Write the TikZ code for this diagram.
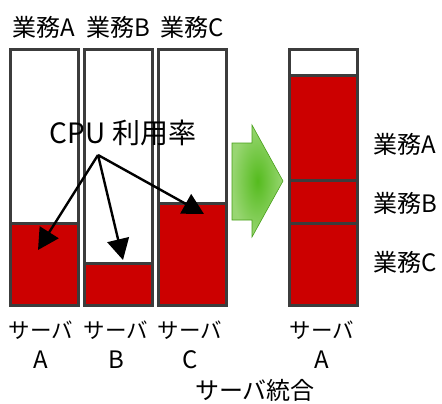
\documentclass[tikz,border=0pt]{standalone}
\usepackage{fontspec}
\setmainfont{Noto Sans CJK JP}
\usetikzlibrary{arrows.meta}
\definecolor{barline}{HTML}{3C3C3C}
\definecolor{cpured}{HTML}{CC0000}
\definecolor{gdark}{HTML}{55BB1E}
\definecolor{glight}{HTML}{98D672}
\tikzset{
  bar/.style={draw=barline,line width=3pt},
  lbl/.style={font=\fontsize{24}{26}\selectfont,inner sep=0pt},
  srv/.style={font=\fontsize{21.5}{24}\selectfont,inner sep=0pt},
  cpulbl/.style={font=\fontsize{28}{30}\selectfont,inner sep=0pt},
  ptr/.style={line width=2.4pt,-{Triangle[length=21pt,width=22pt]}},
}
\begin{document}
\begin{tikzpicture}[x=1pt,y=-1pt]
\useasboundingbox (0,0) rectangle (442,404);
% bars
\fill[cpured] (10.5,223) rectangle (78.5,305.5);
\draw[bar] (10.5,223) -- (78.5,223);
\draw[bar] (10.5,49.5) rectangle (78.5,305.5);
\fill[cpured] (84.5,263) rectangle (152.5,305.5);
\draw[bar] (84.5,263) -- (152.5,263);
\draw[bar] (84.5,49.5) rectangle (152.5,305.5);
\fill[cpured] (158.5,203) rectangle (226.5,305.5);
\draw[bar] (158.5,203) -- (226.5,203);
\draw[bar] (158.5,49.5) rectangle (226.5,305.5);
\fill[cpured] (289.5,76) rectangle (357.5,305.5);
\draw[bar] (289.5,76) -- (357.5,76);
\draw[bar] (289.5,180) -- (357.5,180);
\draw[bar] (289.5,223) -- (357.5,223);
\draw[bar] (289.5,49.5) rectangle (357.5,305.5);
% green arrow
\shade[inner color=gdark,outer color=glight,draw=gdark!85!black,line width=0.6pt]
 (232,143) -- (252,143) -- (252,125) -- (283,181) -- (252,237) -- (252,220) -- (232,220) -- cycle;
% labels
\node[lbl] (ta) at (44,27) {業務A};
\node[lbl] (tb) at (118,27) {業務B};
\node[lbl] (tc) at (192,27) {業務C};
\node[cpulbl] (cpu) at (123,133) {CPU 利用率};
\node[srv] (sa) at (41,330) {サーバ};
\node[srv] (sb) at (116,330) {サーバ};
\node[srv] (sc) at (190,330) {サーバ};
\node[lbl] (la) at (41,360) {A};
\node[lbl] (lb) at (116,360) {B};
\node[lbl] (lc) at (190,360) {C};
\node[srv] (sr) at (322,330) {サーバ};
\node[lbl] (lr) at (322,360) {A};
\node[lbl] (merge) at (255,390) {サーバ統合};
\node[lbl] (ra) at (405,144) {業務A};
\node[lbl] (rb) at (405,203) {業務B};
\node[lbl] (rc) at (405,262) {業務C};
% pointers
\coordinate (src) at (98,155);
\coordinate (pa) at (38,250);
\coordinate (pb) at (123,260);
\coordinate (pc) at (204,214);
\draw[ptr] (src) -- (pa);
\draw[ptr] (src) -- (pb);
\draw[ptr] (src) -- (pc);
\end{tikzpicture}
\end{document}
